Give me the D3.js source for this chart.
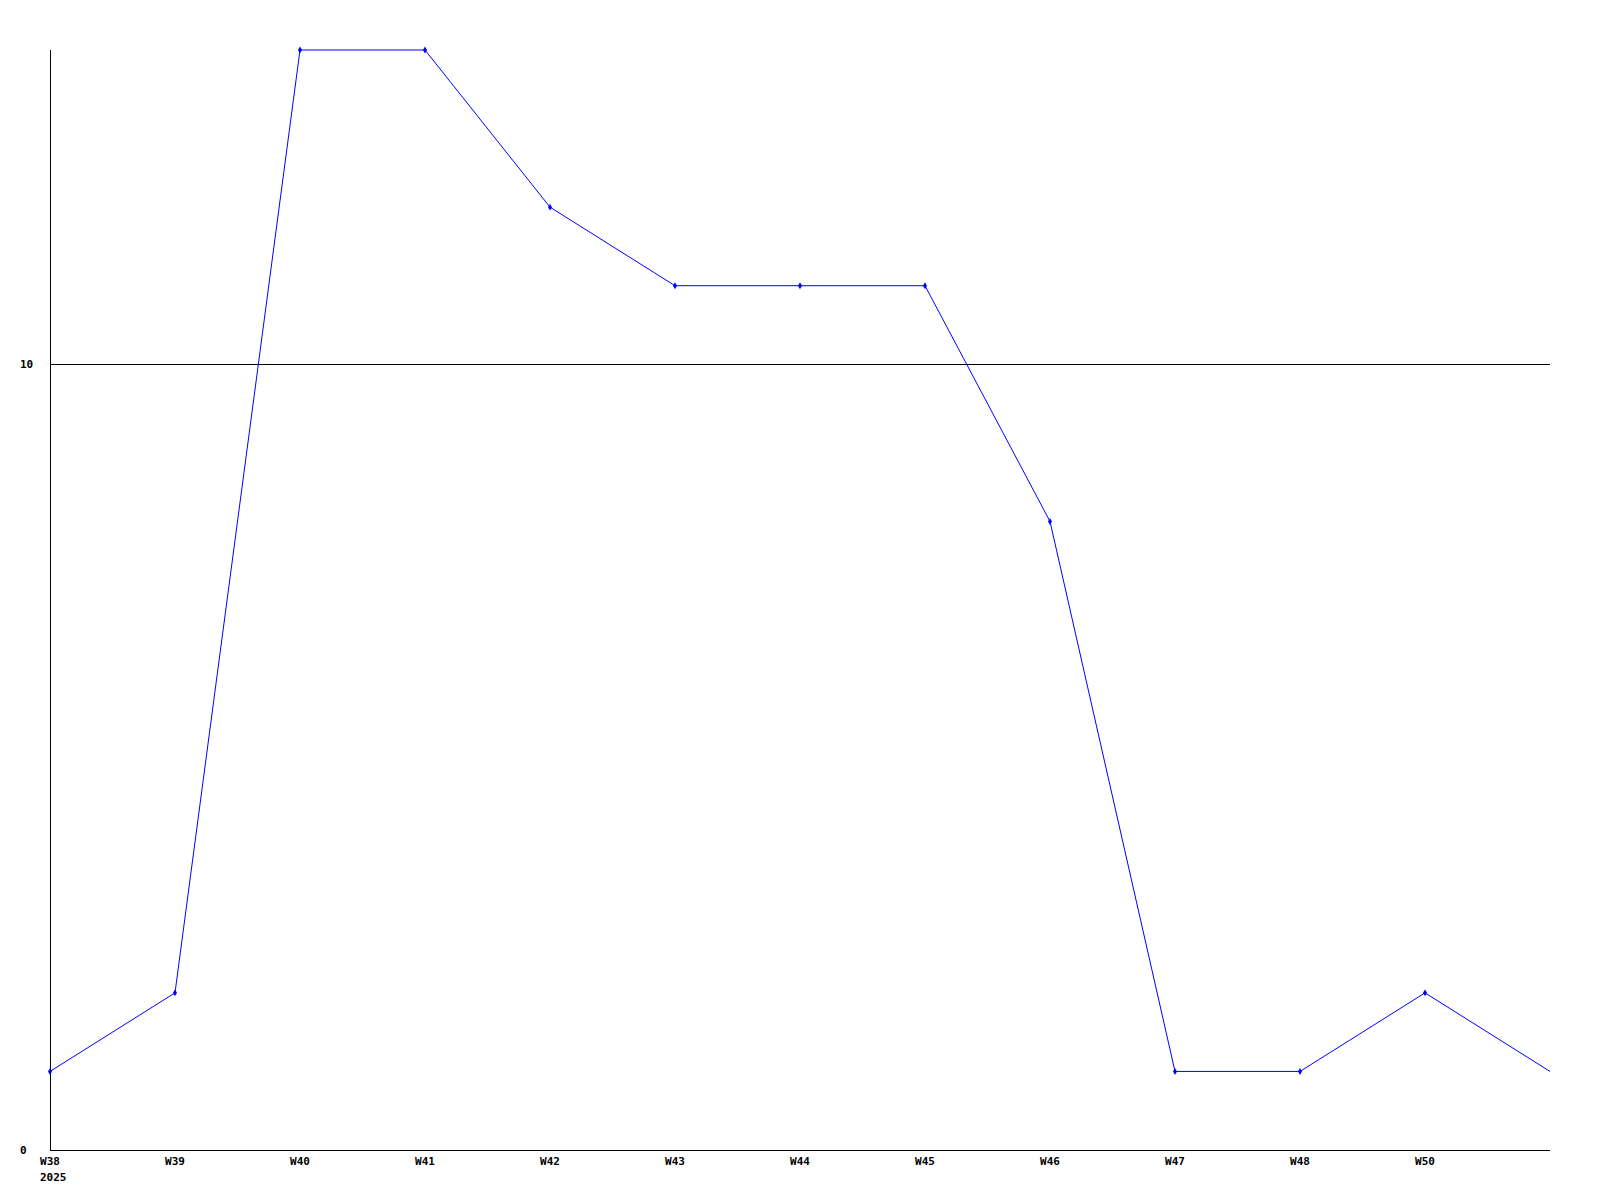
<!DOCTYPE html>
<html>
<head>
<meta charset="utf-8">
<script src="https://cdn.jsdelivr.net/npm/d3@7"></script>
<style>
  body { margin: 0; background: #fff; }
  text { font-family: "DejaVu Sans Mono", monospace; font-size: 11px; font-weight: bold; }
</style>
</head>
<body>
<svg id="chart" width="1600" height="1200"></svg>
<script>
// weekly values, one per week (last point has no label)
var weekIndex = [0,1,2,3,4,5,6,7,8,9,10,11,12];
var values = [1,2,14,14,12,11,11,11,8,1,1,2,1];
var tickLabels = ["W38","W39","W40","W41","W42","W43","W44","W45","W46","W47","W48","W50"];
var yearLabel = "2025";
var yTicks = [0,10];
var gridLines = [10];

var svg = d3.select("#chart");

var x = d3.scaleLinear().domain([0,12]).range([50,1550]);
var y = d3.scaleLinear().domain([0,14]).range([1150,50]);

// horizontal grid line(s)
svg.selectAll(".grid").data(gridLines).enter()
  .append("line")
  .attr("x1", x(0)).attr("x2", x(12))
  .attr("y1", function(d){ return y(d) + 0.5; })
  .attr("y2", function(d){ return y(d) + 0.5; })
  .attr("stroke", "#000")
  .attr("shape-rendering", "crispEdges");

// axes
svg.append("line")
  .attr("x1", x(0) + 0.5).attr("x2", x(0) + 0.5)
  .attr("y1", y(14)).attr("y2", y(0))
  .attr("stroke", "#000")
  .attr("shape-rendering", "crispEdges");
svg.append("line")
  .attr("x1", x(0)).attr("x2", x(12))
  .attr("y1", y(0) + 0.5).attr("y2", y(0) + 0.5)
  .attr("stroke", "#000")
  .attr("shape-rendering", "crispEdges");

// y labels
svg.selectAll(".ylab").data(yTicks).enter()
  .append("text")
  .attr("x", 20)
  .attr("y", function(d){ return y(d) + 4; })
  .text(function(d){ return d; });

// x labels
svg.selectAll(".xlab").data(tickLabels).enter()
  .append("text")
  .attr("x", function(d,i){ return x(i); })
  .attr("y", y(0) + 15)
  .attr("text-anchor", "middle")
  .text(function(d){ return d; });

svg.append("text")
  .attr("x", x(0) - 10)
  .attr("y", y(0) + 31)
  .text(yearLabel);

// data line
var line = d3.line()
  .x(function(d){ return x(d[0]); })
  .y(function(d){ return y(d[1]); });

var pts = weekIndex.map(function(w,i){ return [w, values[i]]; });

svg.append("path")
  .datum(pts)
  .attr("d", line)
  .attr("fill", "none")
  .attr("stroke", "#0000ff")
  .attr("stroke-width", 1);

// markers
svg.selectAll(".dot").data(pts.slice(0, 12)).enter()
  .append("path")
  .attr("transform", function(d){ return "translate(" + x(d[0]) + "," + y(d[1]) + ")"; })
  .attr("d", d3.symbol().type(d3.symbolDiamond).size(14))
  .attr("fill", "#0000ff");
</script>
</body>
</html>
